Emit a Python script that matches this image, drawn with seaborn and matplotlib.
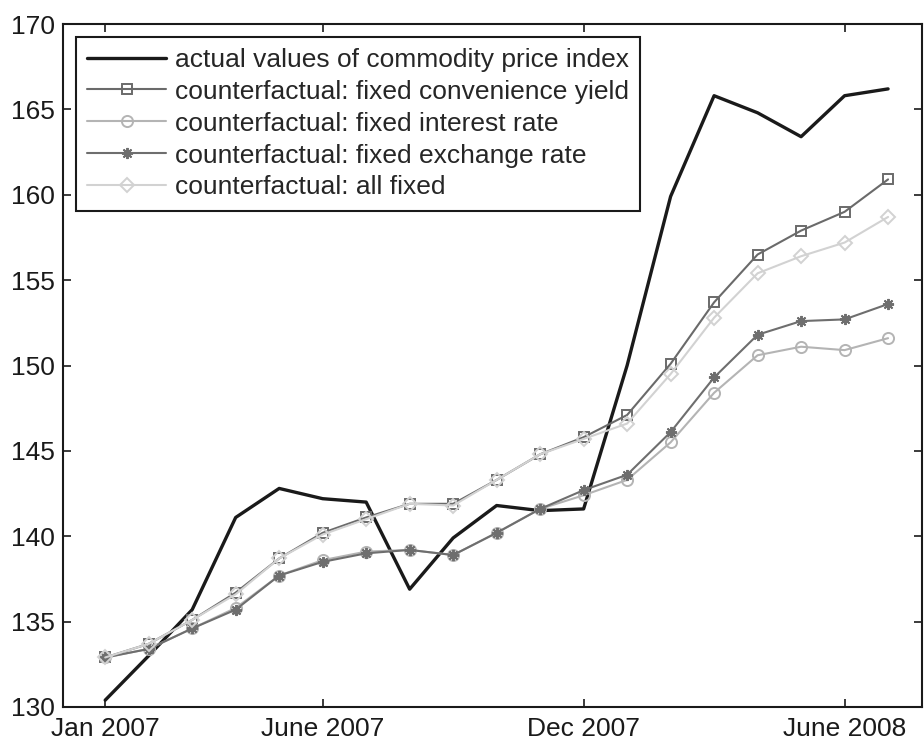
import matplotlib
matplotlib.use("Agg")
import matplotlib.pyplot as plt
import seaborn as sns
import pandas as pd

# Monthly observations, Jan 2007 .. Jul 2008 (month index 0..18)
months = list(range(19))
tick_positions = [0, 5, 11, 17]
tick_labels = ["Jan 2007", "June 2007", "Dec 2007", "June 2008"]

actual = [130.4, 133.0, 135.7, 141.1, 142.8, 142.2, 142.0, 136.9, 139.9, 141.8,
          141.5, 141.6, 150.0, 159.9, 165.8, 164.8, 163.4, 165.8, 166.2]
fixed_convenience = [132.9, 133.7, 135.1, 136.7, 138.7, 140.2, 141.1, 141.9, 141.9, 143.3,
                     144.8, 145.8, 147.1, 150.1, 153.7, 156.5, 157.9, 159.0, 160.9]
fixed_interest = [132.9, 133.4, 134.6, 135.8, 137.7, 138.6, 139.1, 139.2, 138.9, 140.2,
                  141.6, 142.4, 143.3, 145.5, 148.4, 150.6, 151.1, 150.9, 151.6]
fixed_exchange = [132.9, 133.4, 134.6, 135.7, 137.7, 138.5, 139.0, 139.2, 138.9, 140.2,
                  141.6, 142.7, 143.6, 146.1, 149.3, 151.8, 152.6, 152.7, 153.6]
all_fixed = [132.9, 133.7, 135.1, 136.6, 138.7, 140.1, 141.0, 141.9, 141.8, 143.3,
             144.8, 145.7, 146.6, 149.5, 152.8, 155.4, 156.4, 157.2, 158.7]

labels = [
    "actual values of commodity price index",
    "counterfactual: fixed convenience yield",
    "counterfactual: fixed interest rate",
    "counterfactual: fixed exchange rate",
    "counterfactual: all fixed",
]

FS = 19

sns.set_style("ticks")
plt.rcParams["font.family"] = ["Liberation Sans", "DejaVu Sans"]
plt.rcParams["font.size"] = FS

fig = plt.figure(figsize=(9.24, 7.43), dpi=100)
ax = fig.add_axes([63 / 924, 1 - 707 / 743, (922 - 63) / 924, (707 - 24) / 743])

series = [
    (actual, labels[0], dict(color="#1a1a1a", linewidth=2.4, marker=None)),
    (fixed_convenience, labels[1], dict(color="#6a6a6a", linewidth=1.5, marker="s",
                                        markersize=7, markerfacecolor="none",
                                        markeredgecolor="#6a6a6a", markeredgewidth=1.4)),
    (fixed_interest, labels[2], dict(color="#b4b4b4", linewidth=1.5, marker="o",
                                     markersize=8, markerfacecolor="none",
                                     markeredgecolor="#b4b4b4", markeredgewidth=1.4)),
    (fixed_exchange, labels[3], dict(color="#6e6e6e", linewidth=1.5, marker=(8, 2, 0),
                                     markersize=8, markerfacecolor="none",
                                     markeredgecolor="#6e6e6e", markeredgewidth=1.4)),
    (all_fixed, labels[4], dict(color="#d2d2d2", linewidth=1.5, marker="D",
                                markersize=7, markerfacecolor="none",
                                markeredgecolor="#d2d2d2", markeredgewidth=1.4)),
]

for values, label, style in series:
    df = pd.DataFrame({"month": months, "value": values})
    sns.lineplot(data=df, x="month", y="value", ax=ax, label=label, **style)

ax.set_xlim(-0.97, 18.78)
ax.set_ylim(130, 170)
ax.set_xticks(tick_positions)
ax.set_xticklabels(tick_labels)
ax.set_yticks(range(130, 171, 5))
ax.set_xlabel("")
ax.set_ylabel("")

for side in ["top", "right", "bottom", "left"]:
    ax.spines[side].set_visible(True)
    ax.spines[side].set_linewidth(1.5)
    ax.spines[side].set_color("#1a1a1a")
ax.tick_params(axis="both", which="major", direction="in", length=6, width=1.2,
               top=True, right=True, labelsize=FS, colors="#1a1a1a", pad=6)
ax.tick_params(axis="x", pad=7)

leg = ax.legend(loc="upper left", bbox_to_anchor=(13 / 859, 1 - 12.7 / 683),
                frameon=True, fancybox=False, edgecolor="#1a1a1a", framealpha=1,
                fontsize=FS, handlelength=3.0, handletextpad=0.32,
                labelspacing=0.30, borderpad=0.42, borderaxespad=0, numpoints=1)
leg.get_frame().set_linewidth(1.5)

fig.savefig("out.png", dpi=100)
